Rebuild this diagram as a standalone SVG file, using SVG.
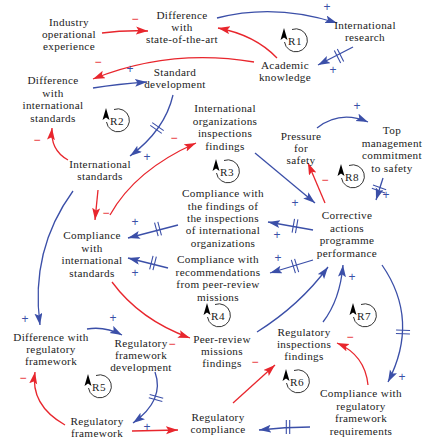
<svg xmlns="http://www.w3.org/2000/svg" width="427" height="439" viewBox="0 0 427 439">
<style>
text{font-family:"Liberation Serif","Times New Roman",serif;font-size:11.2px;letter-spacing:0.35px;fill:#222;text-anchor:middle}
.b{fill:none;stroke:#3b4fa8;stroke-width:1.3}
.r{fill:none;stroke:#e8262d;stroke-width:1.3}
.bm{marker-end:url(#ab)}
.rm{marker-end:url(#ar)}
.dl{fill:none;stroke:#3b4fa8;stroke-width:1.1}
text.p{fill:#3b4fa8;font-family:"Liberation Sans",Arial,sans-serif;font-size:12px;letter-spacing:0}
text.m{fill:#e8262d;font-family:"Liberation Sans",Arial,sans-serif;font-size:12px;letter-spacing:0}
.lc{fill:none;stroke:#333;stroke-width:1}
.la{fill:#000}
</style>
<defs>
<marker id="ab" markerUnits="userSpaceOnUse" markerWidth="13" markerHeight="9" refX="12" refY="4" orient="auto"><path d="M0,0 L12,4 L0,8 L2.5,4 z" fill="#3b4fa8"/></marker>
<marker id="ar" markerUnits="userSpaceOnUse" markerWidth="13" markerHeight="9" refX="12" refY="4" orient="auto"><path d="M0,0 L12,4 L0,8 L2.5,4 z" fill="#e8262d"/></marker>
<path id="dlm" d="M-1.7,-7V7M1.7,-7V7"/>
<g id="loop"><path class="lc" d="M-4,-11.5 A11.5,11.5 0 1 1 -11.5,1"/><path class="la" d="M-12,-13 L-8.5,-1 L-12,-3.5 L-15.5,-1 z"/></g>
</defs>

<g id="connectors">
<path class="r rm" d="M102,33 Q125,30 148,31"/>
<path class="b bm" d="M217,18 Q275,3 337,23"/>
<path class="r rm" d="M277,58 Q255,35 218,28"/>
<path class="b bm" d="M353,47 L318,65"/>
<path class="r rm" d="M254,62 Q170,48 93,79"/>
<path class="b bm" d="M93,88 Q118,84 147,82"/>
<path class="b bm" d="M173,95 Q165,130 130,156"/>
<path class="r rm" d="M68,160 Q50,150 52,128"/>
<path class="r rm" d="M98,190 L95,220"/>
<path class="r rm" d="M110,215 Q135,170 196,143"/>
<path class="b bm" d="M255,153 L315,203"/>
<path class="r rm" d="M325,203 L308,163"/>
<path class="b bm" d="M317,128 Q340,110 368,122"/>
<path class="b bm" d="M383,178 L376,200"/>
<path class="b bm" d="M313,230 L268,222"/>
<path class="b bm" d="M178,225 L128,238"/>
<path class="b bm" d="M313,260 L270,273"/>
<path class="b bm" d="M168,268 L128,258"/>
<path class="r rm" d="M112,282 Q140,320 190,338"/>
<path class="b bm" d="M257,332 Q300,305 328,267"/>
<path class="b bm" d="M323,322 Q340,300 343,265"/>
<path class="b bm" d="M382,265 Q420,320 388,382"/>
<path class="r rm" d="M368,385 Q365,355 337,343"/>
<path class="r rm" d="M233,403 L275,365"/>
<path class="b bm" d="M310,427 Q285,427 259,430"/>
<path class="r rm" d="M132,431 L178,430"/>
<path class="b bm" d="M155,372 Q165,400 133,423"/>
<path class="r rm" d="M65,425 Q30,405 35,372"/>
<path class="b bm" d="M87,329 Q105,326 122,335"/>
<path class="b bm" d="M73,191 Q30,250 40,325"/>
<use href="#dlm" class="dl" transform="translate(339,56) rotate(153)"/>
<use href="#dlm" class="dl" transform="translate(157,128) rotate(125)"/>
<use href="#dlm" class="dl" transform="translate(379,189) rotate(110)"/>
<use href="#dlm" class="dl" transform="translate(295,226) rotate(190)"/>
<use href="#dlm" class="dl" transform="translate(158,229) rotate(165)"/>
<use href="#dlm" class="dl" transform="translate(295,266) rotate(163)"/>
<use href="#dlm" class="dl" transform="translate(153,263) rotate(194)"/>
<use href="#dlm" class="dl" transform="translate(403,332) rotate(92)"/>
<use href="#dlm" class="dl" transform="translate(288,427) rotate(180)"/>
<use href="#dlm" class="dl" transform="translate(156,398) rotate(105)"/>
<text class="m" x="135" y="23">−</text>
<text class="m" x="98" y="66">−</text>
<text class="m" x="37" y="144">−</text>
<text class="m" x="106" y="217">−</text>
<text class="m" x="174" y="142">−</text>
<text class="m" x="325" y="184">−</text>
<text class="m" x="172" y="348">−</text>
<text class="m" x="350" y="341">−</text>
<text class="m" x="255" y="366">−</text>
<text class="m" x="23" y="382">−</text>
<text class="p" x="327" y="11">+</text>
<text class="p" x="333" y="74">+</text>
<text class="p" x="130" y="73">+</text>
<text class="p" x="147" y="161">+</text>
<text class="p" x="295" y="207">+</text>
<text class="p" x="357" y="110">+</text>
<text class="p" x="386" y="199">+</text>
<text class="p" x="277" y="239">+</text>
<text class="p" x="135" y="226">+</text>
<text class="p" x="278" y="262">+</text>
<text class="p" x="135" y="277">+</text>
<text class="p" x="352" y="281">+</text>
<text class="p" x="402" y="381">+</text>
<text class="p" x="147" y="431">+</text>
<text class="p" x="113" y="322">+</text>
<text class="p" x="25" y="323">+</text>
</g>

<g id="loops">
<g id="R1"><use href="#loop" transform="translate(296,41)"/><text x="295" y="45">R1</text></g>
<g id="R2"><use href="#loop" transform="translate(118,121)"/><text x="117" y="125">R2</text></g>
<g id="R3"><use href="#loop" transform="translate(228,172)"/><text x="227" y="176">R3</text></g>
<g id="R4"><use href="#loop" transform="translate(219,316)"/><text x="218" y="320">R4</text></g>
<g id="R5"><use href="#loop" transform="translate(100,387)"/><text x="99" y="391">R5</text></g>
<g id="R6"><use href="#loop" transform="translate(298,382)"/><text x="297" y="386">R6</text></g>
<g id="R7"><use href="#loop" transform="translate(365,316)"/><text x="364" y="320">R7</text></g>
<g id="R8"><use href="#loop" transform="translate(353,177)"/><text x="352" y="181">R8</text></g>
</g>

<g id="n1"><text><tspan x="69" y="25.6">Industry</tspan><tspan x="69" y="38">operational</tspan><tspan x="69" y="50.4">experience</tspan></text></g>
<g id="n2"><text><tspan x="182" y="18.6">Difference</tspan><tspan x="182" y="31">with</tspan><tspan x="182" y="43.4">state-of-the-art</tspan></text></g>
<g id="n3"><text><tspan x="365" y="28.8">International</tspan><tspan x="365" y="41.2">research</tspan></text></g>
<g id="n4"><text><tspan x="285" y="68.8">Academic</tspan><tspan x="285" y="81.2">knowledge</tspan></text></g>
<g id="n5"><text><tspan x="53" y="84.4">Difference</tspan><tspan x="53" y="96.8">with</tspan><tspan x="53" y="109.2">international</tspan><tspan x="53" y="121.6">standards</tspan></text></g>
<g id="n6"><text><tspan x="175" y="75.8">Standard</tspan><tspan x="175" y="88.2">development</tspan></text></g>
<g id="n7"><text><tspan x="100" y="167.8">International</tspan><tspan x="100" y="180.2">standards</tspan></text></g>
<g id="n8"><text><tspan x="225" y="112.4">International</tspan><tspan x="225" y="124.8">organizations</tspan><tspan x="225" y="137.2">inspections</tspan><tspan x="225" y="149.6">findings</tspan></text></g>
<g id="n9"><text><tspan x="301" y="139.6">Pressure</tspan><tspan x="301" y="152">for</tspan><tspan x="301" y="164.4">safety</tspan></text></g>
<g id="n10"><text><tspan x="392" y="134.4">Top</tspan><tspan x="392" y="146.8">management</tspan><tspan x="392" y="159.2">commitment</tspan><tspan x="392" y="171.6">to safety</tspan></text></g>
<g id="n11"><text><tspan x="223" y="197.2">Compliance with</tspan><tspan x="223" y="209.6">the findings of</tspan><tspan x="223" y="222">the inspections</tspan><tspan x="223" y="234.4">of international</tspan><tspan x="223" y="246.8">organizations</tspan></text></g>
<g id="n12"><text><tspan x="218" y="263.4">Compliance with</tspan><tspan x="218" y="275.8">recommendations</tspan><tspan x="218" y="288.2">from peer-review</tspan><tspan x="218" y="300.6">missions</tspan></text></g>
<g id="n13"><text><tspan x="347" y="219.4">Corrective</tspan><tspan x="347" y="231.8">actions</tspan><tspan x="347" y="244.2">programme</tspan><tspan x="347" y="256.6">performance</tspan></text></g>
<g id="n14"><text><tspan x="92" y="239.4">Compliance</tspan><tspan x="92" y="251.8">with</tspan><tspan x="92" y="264.2">international</tspan><tspan x="92" y="276.6">standards</tspan></text></g>
<g id="n15"><text><tspan x="51" y="340.6">Difference with</tspan><tspan x="51" y="353">regulatory</tspan><tspan x="51" y="365.4">framework</tspan></text></g>
<g id="n16"><text><tspan x="141" y="346.6">Regulatory</tspan><tspan x="141" y="359">framework</tspan><tspan x="141" y="371.4">development</tspan></text></g>
<g id="n17"><text><tspan x="222" y="342.6">Peer-review</tspan><tspan x="222" y="355">missions</tspan><tspan x="222" y="367.4">findings</tspan></text></g>
<g id="n18"><text><tspan x="304" y="335.6">Regulatory</tspan><tspan x="304" y="348">inspections</tspan><tspan x="304" y="360.4">findings</tspan></text></g>
<g id="n19"><text><tspan x="361" y="397.4">Compliance with</tspan><tspan x="361" y="409.8">regulatory</tspan><tspan x="361" y="422.2">framework</tspan><tspan x="361" y="434.6">requirements</tspan></text></g>
<g id="n20"><text><tspan x="97" y="424.8">Regulatory</tspan><tspan x="97" y="437.2">framework</tspan></text></g>
<g id="n21"><text><tspan x="218" y="420.8">Regulatory</tspan><tspan x="218" y="433.2">compliance</tspan></text></g>
</svg>
